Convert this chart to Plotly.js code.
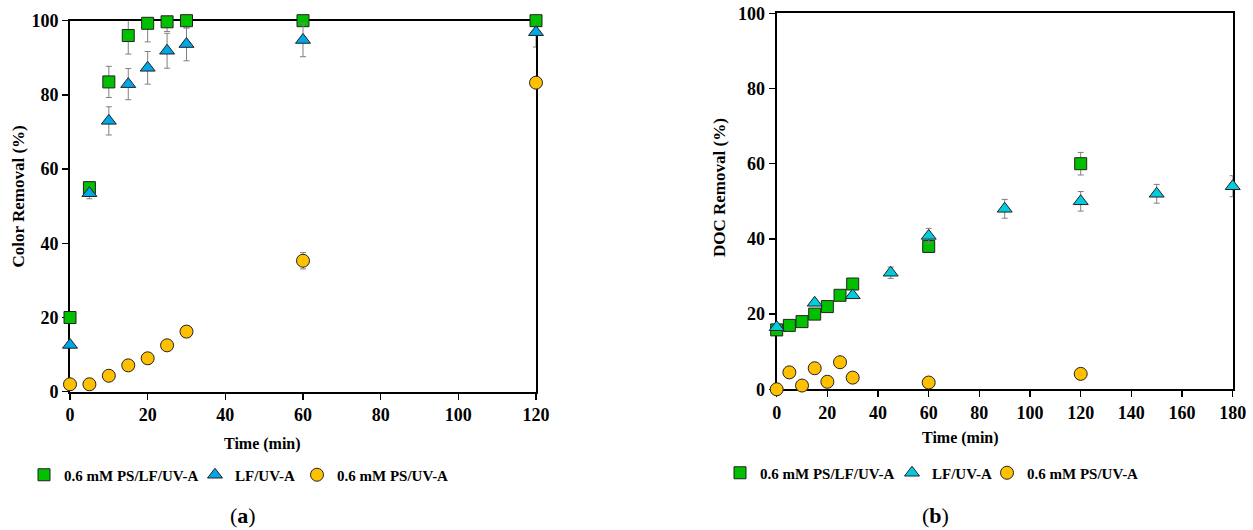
<!DOCTYPE html>
<html>
<head>
<meta charset="utf-8">
<script src="https://cdn.plot.ly/plotly-3.0.1.min.js"></script>
<style>html,body{margin:0;padding:0;background:#fff;}#chart{width:1253px;height:530px;}</style>
</head>
<body>
<div id="chart"></div>
<script>
// ---- Data (a): Color removal ----
const colorTime = [0, 5, 10, 15, 20, 25, 30, 60, 120];
const colorPsLf = [20, 55, 83.5, 96, 99.3, 99.7, 100, 100, 100];
const colorPsLfErr = [0, 1.5, 4.2, 5, 5, 2.6, 2, 1, 0];
const colorLf = [12.6, 53.5, 73, 82.9, 87.3, 91.9, 93.7, 94.8, 96.9];
const colorLfErr = [0, 1.5, 3.8, 4.2, 4.4, 4.7, 4.5, 4.5, 4];
const colorPs = [2, 2, 4.3, 7.1, 9, 12.5, 16.2, 35.3, 83.3];
const colorPsErr = [0, 0, 0, 0, 0, 0, 0, 2.2, 0];

// ---- Data (b): DOC removal ----
const docTimeA = [0, 5, 10, 15, 20, 25, 30, 60, 120];
const docPsLf = [15.8, 17, 18, 20, 22, 25, 28, 38, 60];
const docPsLfErr = [0, 0, 0, 0, 0, 0, 0, 1.5, 3];
const docTimeLf = [0, 15, 30, 45, 60, 90, 120, 150, 180];
const docLf = [16.5, 23, 25, 31, 40.8, 48, 50, 52, 54];
const docLfErr = [0, 0, 0, 1.5, 2, 2.5, 2.6, 2.5, 2.8];
const docPs = [0, 4.5, 1, 5.6, 2, 7.2, 3.1, 1.8, 4.1];

const seriesNames = ['0.6 mM PS/LF/UV-A', 'LF/UV-A', '0.6 mM PS/UV-A'];
const xTicksA = [0, 20, 40, 60, 80, 100, 120];
const xTicksB = [0, 20, 40, 60, 80, 100, 120, 140, 160, 180];
const yTicks = [0, 20, 40, 60, 80, 100];

const FONT = 'Liberation Serif, Times New Roman, serif';
const W = 1253, H = 530;
const px = v => v / W;
const py = v => 1 - v / H;
const bold = arr => arr.map(v => '<b>' + v + '</b>');

const errStyle = (arr) => ({type: 'data', array: arr, visible: true, color: '#808080', thickness: 1, width: 3});
const mk = (symbol, color, size) => ({symbol: symbol, color: color, size: size, line: {color: '#222', width: 1}});

const traces = [
  {x: colorTime, y: colorPsLf, error_y: errStyle(colorPsLfErr), name: seriesNames[0], mode: 'markers', marker: mk('square', '#00C000', 12), xaxis: 'x', yaxis: 'y', legend: 'legend', cliponaxis: false},
  {x: colorTime, y: colorLf, error_y: errStyle(colorLfErr), name: seriesNames[1], mode: 'markers', marker: mk('triangle-up', '#00A6E6', 13), xaxis: 'x', yaxis: 'y', legend: 'legend2', cliponaxis: false},
  {x: colorTime, y: colorPs, error_y: errStyle(colorPsErr), name: seriesNames[2], mode: 'markers', marker: mk('circle', '#FFC000', 13), xaxis: 'x', yaxis: 'y', legend: 'legend3', cliponaxis: false},
  {x: docTimeA, y: docPsLf, error_y: errStyle(docPsLfErr), name: seriesNames[0], mode: 'markers', marker: mk('square', '#00C000', 12), xaxis: 'x2', yaxis: 'y2', legend: 'legend4', cliponaxis: false},
  {x: docTimeLf, y: docLf, error_y: errStyle(docLfErr), name: seriesNames[1], mode: 'markers', marker: mk('triangle-up', '#00CCDD', 13), xaxis: 'x2', yaxis: 'y2', legend: 'legend5', cliponaxis: false},
  {x: docTimeA, y: docPs, name: seriesNames[2], mode: 'markers', marker: mk('circle', '#FFC000', 13), xaxis: 'x2', yaxis: 'y2', legend: 'legend6', cliponaxis: false}
];

const axisBase = {
  showgrid: false, zeroline: false, showline: true, linecolor: '#000', linewidth: 2, mirror: true,
  ticks: 'outside', ticklen: 6, tickwidth: 1.5, tickcolor: '#000', layer: 'below traces',
  tickfont: {family: FONT, size: 18, color: '#000'}
};

const legBase = (xPix, yPix) => ({
  x: px(xPix), y: py(yPix), xanchor: 'left', yanchor: 'middle', orientation: 'h',
  font: {family: FONT, size: 15, color: '#000', weight: 'bold'}, bgcolor: 'rgba(0,0,0,0)',
  borderwidth: 0
});

const ann = (text, xPix, yPix, size, angle) => ({
  text: text, x: px(xPix), y: py(yPix), xref: 'paper', yref: 'paper', showarrow: false,
  xanchor: 'center', yanchor: 'middle', textangle: angle || 0,
  font: {family: FONT, size: size, color: '#000'}
});

const layout = {
  width: W, height: H, margin: {l: 0, r: 0, t: 0, b: 0},
  paper_bgcolor: '#fff', plot_bgcolor: '#fff', showlegend: true,
  xaxis: Object.assign({}, axisBase, {domain: [px(70), px(536)], range: [0, 120], tickmode: 'array', tickvals: xTicksA, ticktext: bold(xTicksA), anchor: 'y'}),
  yaxis: Object.assign({}, axisBase, {domain: [py(391.7), py(20.7)], range: [0, 100], tickmode: 'array', tickvals: yTicks, ticktext: bold(yTicks), anchor: 'x'}),
  xaxis2: Object.assign({}, axisBase, {domain: [px(776.7), px(1232.7)], range: [0, 180], tickmode: 'array', tickvals: xTicksB, ticktext: bold(xTicksB), anchor: 'y2'}),
  yaxis2: Object.assign({}, axisBase, {domain: [py(389.3), py(13.3)], range: [0, 100], tickmode: 'array', tickvals: yTicks, ticktext: bold(yTicks), anchor: 'x2'}),
  legend: legBase(24, 475),
  legend2: legBase(195, 475),
  legend3: legBase(297, 475),
  legend4: legBase(720, 473),
  legend5: legBase(892, 473),
  legend6: legBase(987, 473),
  annotations: [
    ann('<b>Color Removal (%)</b>', 17.5, 197, 17, -90),
    ann('<b>DOC Removal (%)</b>', 720, 188, 17, -90),
    ann('<b>Time (min)</b>', 262, 444, 16),
    ann('<b>Time (min)</b>', 960, 438, 16),
    ann('(<b>a</b>)', 243, 515, 22),
    ann('(<b>b</b>)', 935, 515, 22)
  ]
};

Plotly.newPlot('chart', traces, layout, {staticPlot: true, displayModeBar: false});
</script>
</body>
</html>
